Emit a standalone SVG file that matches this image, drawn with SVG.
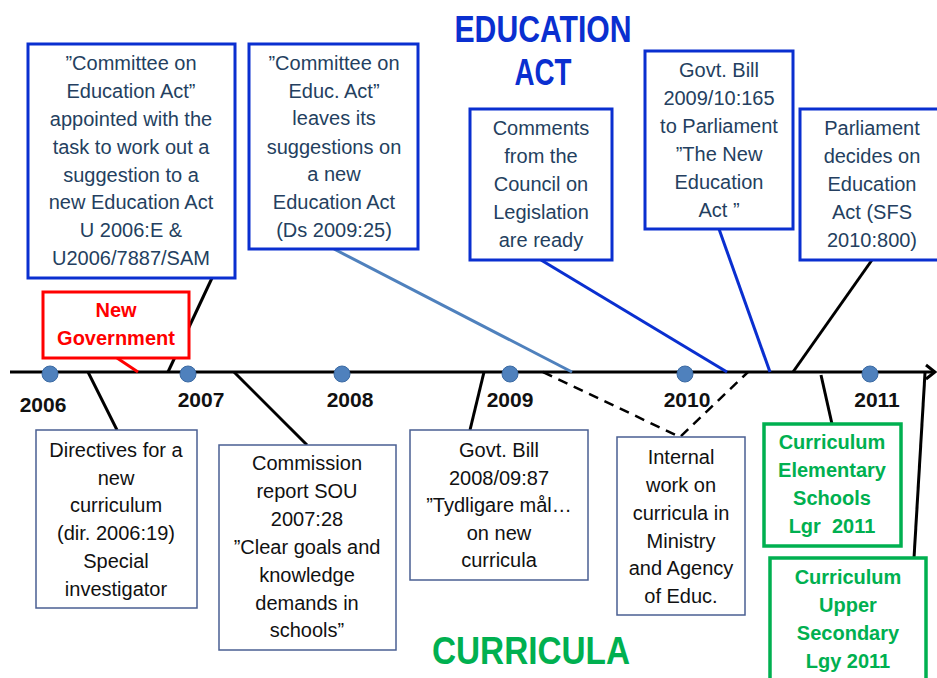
<svg xmlns="http://www.w3.org/2000/svg" width="937" height="678" viewBox="0 0 937 678">
<defs>
<style>
text{font-family:"Liberation Sans",Arial,sans-serif;text-anchor:middle}
.t{font-size:20px;fill:#243f60}
.b{font-size:20px;fill:#111}
.g{font-size:20px;fill:#00b050;font-weight:bold}
.r{font-size:20px;fill:#ff0000;font-weight:bold}
.yr{font-size:21px;font-weight:bold;fill:#111}
.blue{fill:#fff;stroke:#0a2fd0;stroke-width:3}
.thin{fill:#fff;stroke:#4a5f92;stroke-width:1.5}
.green{fill:#fff;stroke:#00b050;stroke-width:3.5}
.red{fill:#fff;stroke:#ff0000;stroke-width:3}
.dot{fill:#4f81bd;stroke:#3b6aa3;stroke-width:1}
.k{stroke:#000;stroke-width:3;fill:none}
</style>
</defs>
<rect width="937" height="678" fill="#fff"/>

<g id="headings">
<text x="543" y="42" font-size="36" font-weight="bold" fill="#0a2fd0" textLength="177" lengthAdjust="spacingAndGlyphs">EDUCATION</text>
<text x="543" y="85" font-size="36" font-weight="bold" fill="#0a2fd0" textLength="57" lengthAdjust="spacingAndGlyphs">ACT</text>
<text x="531" y="664" font-size="38" font-weight="bold" fill="#00b050" textLength="198" lengthAdjust="spacingAndGlyphs">CURRICULA</text>
</g>

<g id="connectors">
<line x1="10" y1="372" x2="934" y2="372" class="k"/>
<polyline points="926,365 935,372 926,379" class="k" stroke-width="2.5"/>
<line x1="117" y1="358" x2="138" y2="372" stroke="#ff0000" stroke-width="3"/>
<line x1="212" y1="278" x2="168" y2="372" class="k"/>
<line x1="88" y1="372" x2="117" y2="430" class="k"/>
<line x1="234" y1="372" x2="307" y2="445" class="k"/>
<line x1="484" y1="372" x2="470" y2="430" class="k"/>
<polyline points="543,372 680,437 748,372" fill="none" stroke="#000" stroke-width="2.5" stroke-dasharray="10,7"/>
<line x1="334" y1="249" x2="572" y2="372" stroke="#4f81bd" stroke-width="3"/>
<line x1="541" y1="260" x2="727" y2="372" stroke="#0a2fd0" stroke-width="3"/>
<line x1="719" y1="229" x2="770" y2="372" stroke="#0a2fd0" stroke-width="3"/>
<line x1="872" y1="260" x2="793" y2="372" class="k"/>
<line x1="821" y1="375" x2="832" y2="424" class="k"/>
<line x1="925" y1="373" x2="914" y2="558" class="k"/>
</g>

<g id="years">
<circle cx="50" cy="374" r="8" class="dot"/>
<circle cx="188" cy="374" r="8" class="dot"/>
<circle cx="342" cy="374" r="8" class="dot"/>
<circle cx="510" cy="374" r="8" class="dot"/>
<circle cx="685" cy="374" r="8" class="dot"/>
<circle cx="870" cy="374" r="8" class="dot"/>
<text x="43" y="412" class="yr">2006</text>
<text x="201" y="407" class="yr">2007</text>
<text x="350" y="407" class="yr">2008</text>
<text x="510" y="407" class="yr">2009</text>
<text x="687" y="407" class="yr">2010</text>
<text x="877" y="407" class="yr">2011</text>
</g>

<g id="committee-appointed">
<rect x="28" y="44" width="207" height="234" class="blue"/>
<text class="t" x="131" y="70">”Committee on</text>
<text class="t" x="131" y="98">Education Act”</text>
<text class="t" x="131" y="126">appointed with the</text>
<text class="t" x="131" y="154">task to work out a</text>
<text class="t" x="131" y="182">suggestion to a</text>
<text class="t" x="131" y="209">new Education Act</text>
<text class="t" x="131" y="237">U 2006:E &amp;</text>
<text class="t" x="131" y="265">U2006/7887/SAM</text>
</g>

<g id="committee-leaves">
<rect x="249" y="44" width="169" height="205" class="blue"/>
<text class="t" x="334" y="70">”Committee on</text>
<text class="t" x="334" y="98">Educ. Act”</text>
<text class="t" x="334" y="125">leaves its</text>
<text class="t" x="334" y="154">suggestions on</text>
<text class="t" x="334" y="181">a new</text>
<text class="t" x="334" y="209">Education Act</text>
<text class="t" x="334" y="237">(Ds 2009:25)</text>
</g>

<g id="comments-council">
<rect x="470" y="109" width="142" height="151" class="blue"/>
<text class="t" x="541" y="135">Comments</text>
<text class="t" x="541" y="163">from the</text>
<text class="t" x="541" y="191">Council on</text>
<text class="t" x="541" y="219">Legislation</text>
<text class="t" x="541" y="247">are ready</text>
</g>

<g id="govt-bill-2009">
<rect x="645" y="51" width="148" height="178" class="blue"/>
<text class="t" x="719" y="77">Govt. Bill</text>
<text class="t" x="719" y="105">2009/10:165</text>
<text class="t" x="719" y="133">to Parliament</text>
<text class="t" x="719" y="161">”The New</text>
<text class="t" x="719" y="189">Education</text>
<text class="t" x="719" y="217">Act ”</text>
</g>

<g id="parliament-decides">
<rect x="800" y="109" width="150" height="151" class="blue"/>
<text class="t" x="872" y="135">Parliament</text>
<text class="t" x="872" y="163">decides on</text>
<text class="t" x="872" y="191">Education</text>
<text class="t" x="872" y="219">Act (SFS</text>
<text class="t" x="872" y="247">2010:800)</text>
</g>

<g id="new-government">
<rect x="43" y="292" width="146" height="66" class="red"/>
<text class="r" x="116" y="317">New</text>
<text class="r" x="116" y="345">Government</text>
</g>

<g id="directives">
<rect x="36" y="430" width="161" height="178" class="thin"/>
<text class="b" x="116" y="457">Directives for a</text>
<text class="b" x="116" y="485">new</text>
<text class="b" x="116" y="512">curriculum</text>
<text class="b" x="116" y="540">(dir. 2006:19)</text>
<text class="b" x="116" y="568">Special</text>
<text class="b" x="116" y="596">investigator</text>
</g>

<g id="commission-report">
<rect x="219" y="445" width="177" height="205" class="thin"/>
<text class="b" x="307" y="470">Commission</text>
<text class="b" x="307" y="498">report SOU</text>
<text class="b" x="307" y="526">2007:28</text>
<text class="b" x="307" y="554">”Clear goals and</text>
<text class="b" x="307" y="582">knowledge</text>
<text class="b" x="307" y="610">demands in</text>
<text class="b" x="307" y="637">schools”</text>
</g>

<g id="govt-bill-2008">
<rect x="410" y="430" width="178" height="150" class="thin"/>
<text class="b" x="499" y="457">Govt. Bill</text>
<text class="b" x="499" y="485">2008/09:87</text>
<text class="b" x="499" y="512">”Tydligare mål…</text>
<text class="b" x="499" y="540">on new</text>
<text class="b" x="499" y="567">curricula</text>
</g>

<g id="internal-work">
<rect x="617" y="437" width="128" height="178" class="thin"/>
<text class="b" x="681" y="464">Internal</text>
<text class="b" x="681" y="492">work on</text>
<text class="b" x="681" y="520">curricula in</text>
<text class="b" x="681" y="548">Ministry</text>
<text class="b" x="681" y="575">and Agency</text>
<text class="b" x="681" y="603">of Educ.</text>
</g>

<g id="curriculum-elementary">
<rect x="764" y="424" width="137" height="122" class="green"/>
<text class="g" x="832" y="449">Curriculum</text>
<text class="g" x="832" y="477">Elementary</text>
<text class="g" x="832" y="505">Schools</text>
<text class="g" x="832" y="533" xml:space="preserve">Lgr  2011</text>
</g>

<g id="curriculum-upper">
<rect x="770" y="558" width="156" height="130" class="green"/>
<text class="g" x="848" y="584">Curriculum</text>
<text class="g" x="848" y="612">Upper</text>
<text class="g" x="848" y="640">Secondary</text>
<text class="g" x="848" y="668">Lgy 2011</text>
</g>
</svg>
